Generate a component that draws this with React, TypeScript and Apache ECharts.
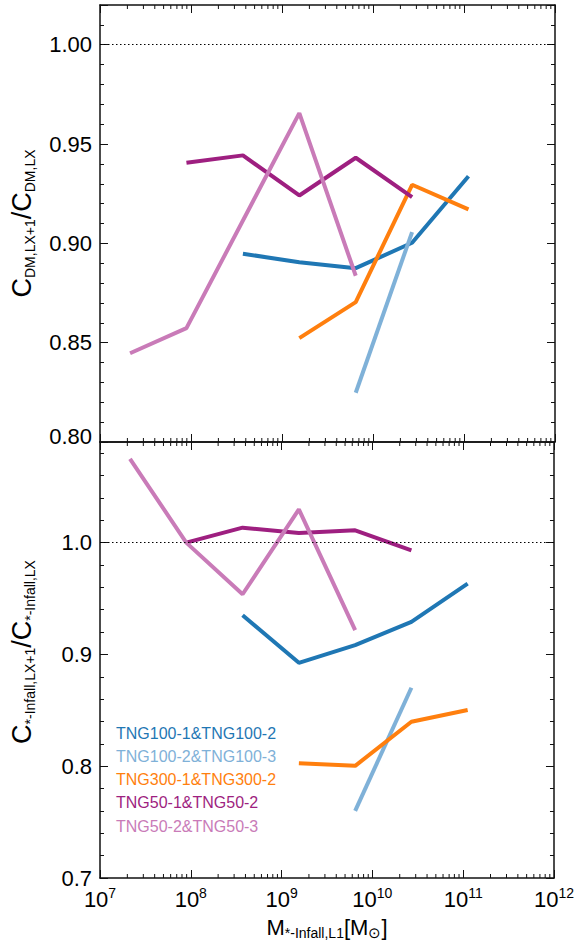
import React, { useEffect, useRef } from 'react';
import * as echarts from 'echarts';

// ---------- data ----------
const MASS = [2.14e7, 8.91e7, 3.72e8, 1.55e9, 6.46e9, 2.69e10, 1.12e11];
const NAMES = ['TNG100-1&TNG100-2', 'TNG100-2&TNG100-3', 'TNG300-1&TNG300-2', 'TNG50-1&TNG50-2', 'TNG50-2&TNG50-3'];
const COLORS = ['#1f77b4', '#7fb1d8', '#ff7f0e', '#9e1f80', '#c97bb8'];

// top panel: C_DM,LX+1 / C_DM,LX
const DM_TNG100_12 = [null, null, 0.8948, 0.8905, 0.8875, 0.9003, 0.9338];
const DM_TNG100_23 = [null, null, null, null, 0.8248, 0.9057, null];
const DM_TNG300_12 = [null, null, null, 0.8523, 0.8704, 0.9295, 0.9171];
const DM_TNG50_12 = [null, 0.9406, 0.9443, 0.9241, 0.9431, 0.9233, null];
const DM_TNG50_23 = [0.8447, 0.8573, null, 0.9656, 0.8837, null, null];

// bottom panel: C_*-Infall,LX+1 / C_*-Infall,LX
const ST_TNG100_12 = [null, null, 0.9351, 0.8925, 0.9083, 0.9291, 0.9634];
const ST_TNG100_23 = [null, null, null, null, 0.7601, 0.8702, null];
const ST_TNG300_12 = [null, null, null, 0.8027, 0.8003, 0.8398, 0.8503];
const ST_TNG50_12 = [null, 1.0, 1.0134, 1.0086, 1.011, 0.9931, null];
const ST_TNG50_23 = [1.075, 1.0, 0.9538, 1.0297, 0.9217, null, null];

const DM_SETS = [DM_TNG100_12, DM_TNG100_23, DM_TNG300_12, DM_TNG50_12, DM_TNG50_23];
const ST_SETS = [ST_TNG100_12, ST_TNG100_23, ST_TNG300_12, ST_TNG50_12, ST_TNG50_23];

const X_MIN = 1e7;
const X_MAX = 1e12;
const DECADES = [1e7, 1e8, 1e9, 1e10, 1e11];
const MINOR_MULT = [2, 3, 4, 5, 6, 7, 8, 9];

const TOP_Y = { min: 0.8, max: 1.02, interval: 0.05, digits: 2 };
const BOT_Y = { min: 0.7, max: 1.09, interval: 0.1, digits: 1 };

const FONT = '"Liberation Sans", Arial, Helvetica, sans-serif';
const AXIS_COLOR = '#111';

function toPairs(vals: (number | null)[]) {
  const out: [number, number][] = [];
  vals.forEach((v, i) => {
    if (v !== null) out.push([MASS[i], v]);
  });
  return out;
}

const minorTickValues: number[] = [];
DECADES.forEach((d) => MINOR_MULT.forEach((m) => minorTickValues.push(m * d)));

export default function App() {
  const ref = useRef<HTMLDivElement>(null);

  useEffect(() => {
    document.body.style.margin = '0';
    const chart = echarts.init(ref.current!, null, { renderer: 'svg' });

    const grids = [
      { left: 99, right: 22, top: 5, height: 437 },
      { left: 99, right: 22, top: 442, height: 436 },
    ];

    const xBase = (gridIndex: number, position: 'top' | 'bottom') => ({
      type: 'log',
      logBase: 10,
      gridIndex,
      position,
      min: X_MIN,
      max: X_MAX,
      splitNumber: 5,
      axisLine: { show: true, onZero: false, lineStyle: { color: AXIS_COLOR, width: 1.5 } },
      axisTick: { show: true, inside: true, length: 8, lineStyle: { color: AXIS_COLOR, width: 1 } },
      axisLabel: { show: false },
      splitLine: { show: false },
    });

    const xAxes: any[] = [
      xBase(0, 'bottom'),
      xBase(0, 'top'),
      xBase(1, 'top'),
      {
        ...xBase(1, 'bottom'),
        axisLabel: {
          show: true,
          margin: 8,
          formatter: (v: number) => `{b|10}{s|${Math.round(Math.log10(v))}}`,
          rich: {
            b: { fontSize: 22, lineHeight: 26, fontFamily: FONT, color: '#000' },
            s: { fontSize: 14, lineHeight: 14, fontFamily: FONT, color: '#000', verticalAlign: 'top' },
          },
        },
        name: '{m|M}{s|*-Infall,L1}{m|[M}{o|⊙}{m|]}',
        nameLocation: 'middle',
        nameGap: 36,
        nameTextStyle: {
          rich: {
            m: { fontSize: 22, lineHeight: 26, fontFamily: FONT, color: '#000' },
            s: { fontSize: 14, lineHeight: 14, fontFamily: FONT, color: '#000', verticalAlign: 'bottom' },
            o: { fontSize: 15, lineHeight: 15, fontFamily: FONT, color: '#000', verticalAlign: 'bottom' },
          },
        },
      },
    ];

    const yBase = (gridIndex: number, position: 'left' | 'right', cfg: typeof TOP_Y) => ({
      type: 'value',
      gridIndex,
      position,
      min: cfg.min,
      max: cfg.max,
      interval: cfg.interval,
      axisLine: { show: true, onZero: false, lineStyle: { color: AXIS_COLOR, width: 1.5 } },
      axisTick: { show: true, inside: true, length: 8, lineStyle: { color: AXIS_COLOR, width: 1 } },
      minorTick: { show: true, splitNumber: 5, length: 4, lineStyle: { color: AXIS_COLOR, width: 1 } },
      axisLabel: { show: false },
      splitLine: { show: false },
      minorSplitLine: { show: false },
    });

    const yLabel = (cfg: typeof TOP_Y, liftMin: boolean) => ({
      show: true,
      margin: 8,
      showMaxLabel: false,
      fontSize: 22,
      fontFamily: FONT,
      color: '#000',
      rich: {
        lo: { fontSize: 22, fontFamily: FONT, color: '#000', padding: [0, 0, 12, 0] },
      },
      formatter: (v: number) => {
        const k = Math.round((v - cfg.min) / cfg.interval);
        if (Math.abs(cfg.min + k * cfg.interval - v) > 1e-6) return '';
        const s = v.toFixed(cfg.digits);
        if (liftMin && Math.abs(v - cfg.min) < 1e-6) return `{lo|${s}}`;
        return s;
      },
    });

    const yNameRich = {
      c: { fontSize: 27, lineHeight: 31, fontFamily: FONT, color: '#000' },
      s: { fontSize: 14, lineHeight: 14, fontFamily: FONT, color: '#000', verticalAlign: 'bottom' },
    };

    const yAxes: any[] = [
      {
        ...yBase(0, 'left', TOP_Y),
        axisLabel: yLabel(TOP_Y, true),
        name: '{c|C}{s|DM,LX+1}{c|/C}{s|DM,LX}',
        nameLocation: 'middle',
        nameGap: 63,
        nameTextStyle: { rich: yNameRich },
      },
      yBase(0, 'right', TOP_Y),
      {
        ...yBase(1, 'left', BOT_Y),
        axisLabel: yLabel(BOT_Y, false),
        name: '{c|C}{s|*-Infall,LX+1}{c|/C}{s|*-Infall,LX}',
        nameLocation: 'middle',
        nameGap: 63,
        nameTextStyle: { rich: yNameRich, padding: [0, 0, 0, 16] },
      },
      yBase(1, 'right', BOT_Y),
    ];

    const lineSeries: any[] = [];
    NAMES.forEach((name, i) => {
      lineSeries.push({
        type: 'line',
        name,
        xAxisIndex: 0,
        yAxisIndex: 0,
        data: toPairs(DM_SETS[i]),
        showSymbol: false,
        symbol: 'none',
        lineStyle: { color: COLORS[i], width: 4 },
        itemStyle: { color: COLORS[i] },
        z: 3,
      });
      lineSeries.push({
        type: 'line',
        name,
        xAxisIndex: 3,
        yAxisIndex: 2,
        data: toPairs(ST_SETS[i]),
        showSymbol: false,
        symbol: 'none',
        lineStyle: { color: COLORS[i], width: 4 },
        itemStyle: { color: COLORS[i] },
        z: 3,
      });
    });

    const refLine = (xAxisIndex: number, yAxisIndex: number) => ({
      type: 'line',
      xAxisIndex,
      yAxisIndex,
      data: [],
      silent: true,
      z: 2,
      markLine: {
        silent: true,
        symbol: ['none', 'none'],
        label: { show: false },
        lineStyle: { color: '#000', width: 1, type: [1.5, 2.5] },
        data: [{ yAxis: 1.0 }],
      },
    });

    const minorTickSeries = (xAxisIndex: number, yAxisIndex: number, yVal: number) => ({
      type: 'custom',
      xAxisIndex,
      yAxisIndex,
      silent: true,
      clip: false,
      z: 1,
      data: minorTickValues.map((v) => [v, yVal]),
      renderItem: (params: any, api: any) => {
        const cs = params.coordSys;
        const x = api.coord([api.value(0), api.value(1)])[0];
        return {
          type: 'group',
          children: [
            { type: 'line', shape: { x1: x, y1: cs.y, x2: x, y2: cs.y + 4 }, style: { stroke: AXIS_COLOR, lineWidth: 1 } },
            {
              type: 'line',
              shape: { x1: x, y1: cs.y + cs.height, x2: x, y2: cs.y + cs.height - 4 },
              style: { stroke: AXIS_COLOR, lineWidth: 1 },
            },
          ],
        };
      },
    });

    chart.setOption({
      animation: false,
      grid: grids,
      xAxis: xAxes,
      yAxis: yAxes,
      legend: {
        orient: 'vertical',
        left: 111,
        top: 724,
        padding: 0,
        icon: 'none',
        itemWidth: 0,
        itemHeight: 18,
        itemGap: 6.3,
        selectedMode: false,
        textStyle: { fontSize: 16, fontFamily: FONT },
        data: NAMES.map((n, i) => ({ name: n, textStyle: { color: COLORS[i] } })),
      },
      series: [
        refLine(0, 0),
        refLine(3, 2),
        minorTickSeries(0, 0, TOP_Y.min),
        minorTickSeries(3, 2, BOT_Y.min),
        ...lineSeries,
      ],
    });

    return () => chart.dispose();
  }, []);

  return <div ref={ref} style={{ position: 'absolute', left: 0, top: 0, width: 577, height: 944 }} />;
}
